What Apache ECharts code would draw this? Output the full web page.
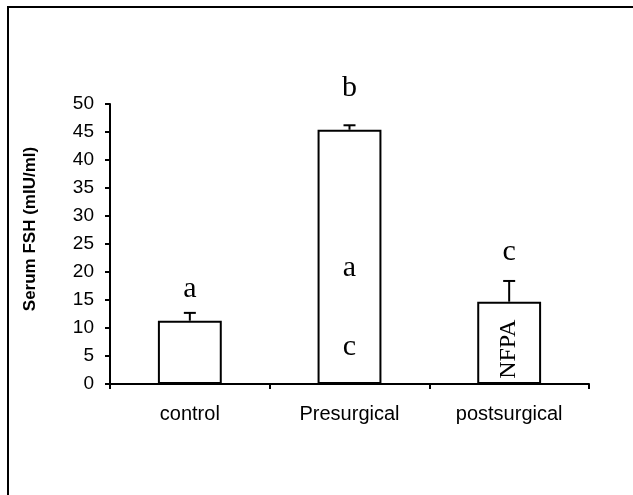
<!DOCTYPE html>
<html>
<head>
<meta charset="UTF-8">
<title>Serum FSH</title>
<script src="https://cdn.jsdelivr.net/npm/echarts@6/dist/echarts.min.js"></script>
</head>
<body style="margin:0;background:#fff;">
<div id="main" style="width:633px;height:495px;"></div>
<script type="text/javascript">
    // data
    var categories = ['control', 'Presurgical', 'postsurgical'];
    var means = [11.3, 45.4, 14.7];
    var errors = [1.4, 0.8, 3.7];
    // significance letters: [category index, y value, text, font size, rotated]
    var letters = [
        [0, 17.0, 'a', 30, 0],
        [1, 52.9, 'b', 30, 0],
        [1, 20.7, 'a', 30, 0],
        [1, 6.6, 'c', 30, 0],
        [2, 23.6, 'c', 30, 0],
        [2, 6.2, 'NFPA', 24, 1]
    ];

    var myChart = echarts.init(document.getElementById('main'));

    var errData = means.map(function (m, i) {
        return [i, m, m + errors[i]];
    });

    var option = {
        backgroundColor: '#fff',
        animation: false,
        grid: {left: 110, right: 44, top: 104, bottom: 111},
        graphic: [
            {
                type: 'rect',
                shape: {x: 8, y: 7, width: 800, height: 700},
                style: {fill: 'none', stroke: '#000', lineWidth: 2}
            },
            {
                type: 'text',
                x: 30, y: 229,
                rotation: Math.PI / 2,
                style: {
                    text: 'Serum FSH (mIU/ml)',
                    font: 'bold 17px Arial, "Liberation Sans", sans-serif',
                    fill: '#000',
                    align: 'center',
                    verticalAlign: 'middle'
                }
            }
        ],
        xAxis: {
            type: 'category',
            data: categories,
            axisLine: {lineStyle: {color: '#000', width: 2}},
            axisTick: {show: true, length: 5, lineStyle: {color: '#000', width: 2}},
            axisLabel: {
                color: '#000',
                fontFamily: 'Arial, "Liberation Sans", sans-serif',
                fontSize: 20,
                margin: 20
            },
            splitLine: {show: false}
        },
        yAxis: {
            type: 'value',
            min: 0,
            max: 50,
            interval: 5,
            axisLine: {show: true, lineStyle: {color: '#000', width: 2}},
            axisTick: {show: true, length: 5, lineStyle: {color: '#000', width: 2}},
            axisLabel: {
                color: '#000',
                fontFamily: 'Arial, "Liberation Sans", sans-serif',
                fontSize: 19,
                margin: 16
            },
            splitLine: {show: false}
        },
        series: [
            {
                type: 'bar',
                data: means,
                barWidth: '40%',
                itemStyle: {color: '#fff', borderColor: '#000', borderWidth: 2}
            },
            {
                type: 'custom',
                data: errData,
                z: 3,
                renderItem: function (params, api) {
                    var lo = api.coord([api.value(0), api.value(1)]);
                    var hi = api.coord([api.value(0), api.value(2)]);
                    var cap = 6;
                    return {
                        type: 'group',
                        children: [
                            {type: 'line', shape: {x1: hi[0], y1: lo[1], x2: hi[0], y2: hi[1]},
                                style: {stroke: '#000', lineWidth: 2}},
                            {type: 'line', shape: {x1: hi[0] - cap, y1: hi[1], x2: hi[0] + cap, y2: hi[1]},
                                style: {stroke: '#000', lineWidth: 2}}
                        ]
                    };
                }
            },
            {
                type: 'custom',
                data: letters,
                z: 4,
                clip: false,
                renderItem: function (params, api) {
                    var p = api.coord([api.value(0), api.value(1)]);
                    var item = letters[params.dataIndex];
                    return {
                        type: 'text',
                        x: p[0], y: p[1],
                        rotation: item[4] ? Math.PI / 2 : 0,
                        style: {
                            text: item[2],
                            font: item[3] + 'px "Times New Roman", "Liberation Serif", serif',
                            fill: '#000',
                            align: 'center',
                            verticalAlign: 'middle'
                        }
                    };
                }
            }
        ]
    };

    myChart.setOption(option);
</script>
</body>
</html>
